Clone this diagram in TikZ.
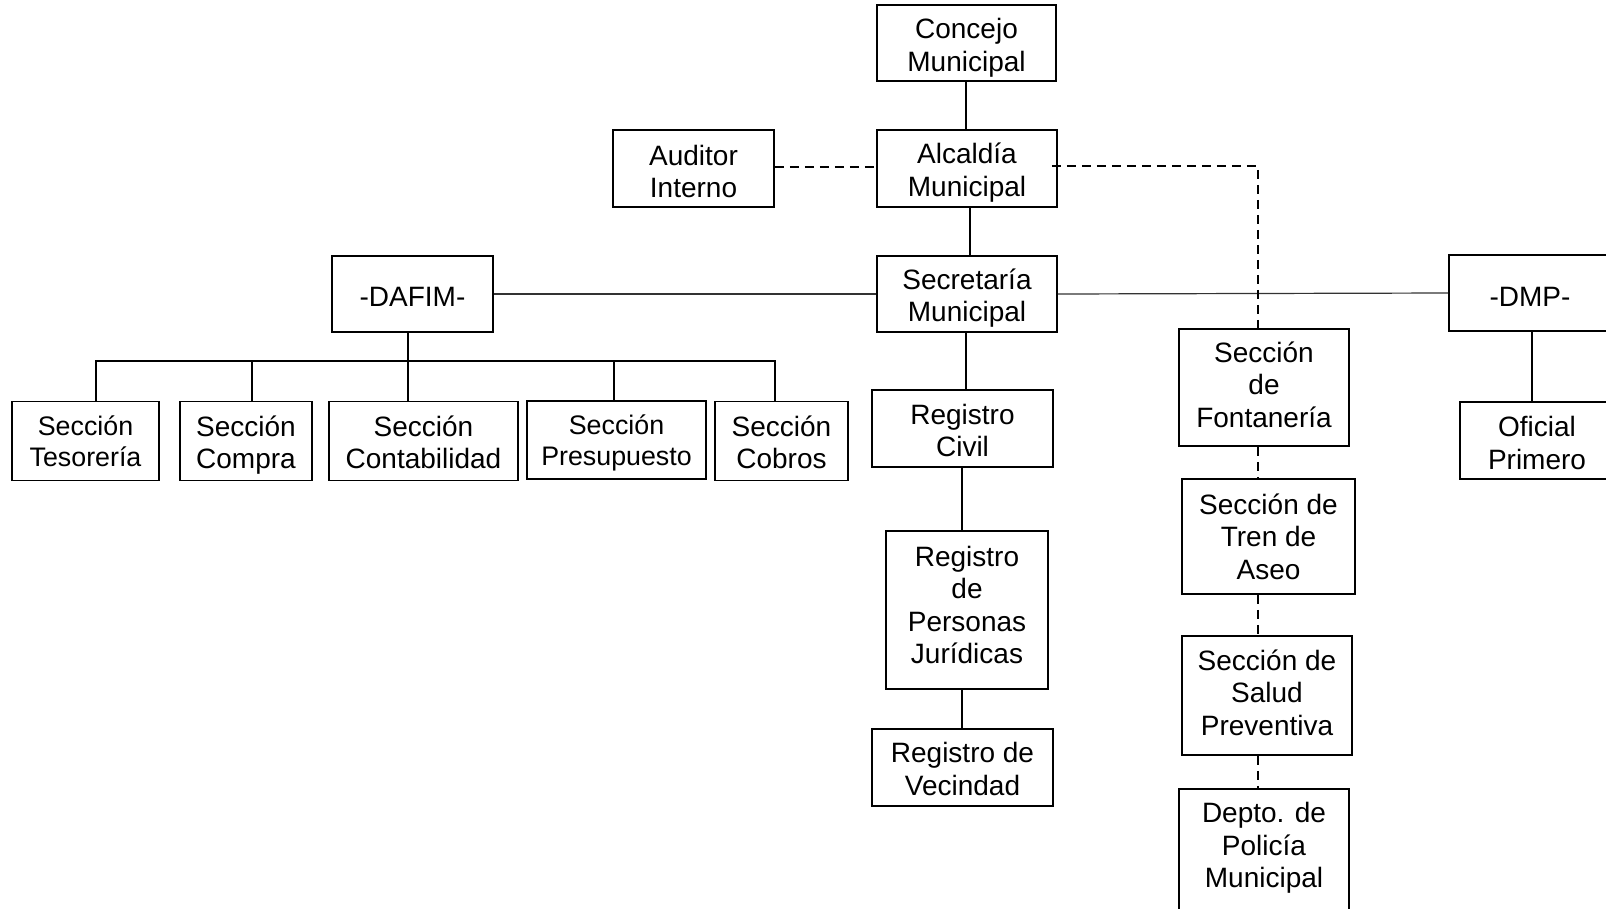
\documentclass[tikz,border=0pt]{standalone}
\usepackage{fontspec}
\setmainfont{Liberation Sans}
\begin{document}
\begin{tikzpicture}[x=1pt,y=-1pt,
  box/.style={draw=black,line width=1.7pt,inner sep=0pt},
  txt/.style={align=center,inner sep=0pt,font=\fontsize{28}{32.5}\selectfont},
  smalltxt/.style={txt,font=\fontsize{26.8}{31.5}\selectfont},
  lbl/.style 2 args={label={[txt,yshift=-#1pt]center:#2}},
  slbl/.style 2 args={label={[smalltxt,yshift=-#1pt]center:#2}},
  conn/.style={draw=black,line width=1.6pt},
  thinconn/.style={draw=black!80,line width=1.2pt},
  dconn/.style={draw=black,line width=1.7pt,dash pattern=on 9pt off 6pt}]
\useasboundingbox (0,0) rectangle (1606,908);
\clip (0,0) rectangle (1606,908);
\fill[white] (0,0) rectangle (1606,908);
% nodes
\node[box,minimum width=179,minimum height=76,lbl={5}{Concejo\\Municipal}] (con) at (966.5,43) {};
\node[box,minimum width=180,minimum height=77,lbl={4}{Alcaldía\\Municipal}] (alc) at (967,168.5) {};
\node[box,minimum width=180,minimum height=76,lbl={4}{Secretaría\\Municipal}] (sec) at (967,294) {};
\node[box,minimum width=161,minimum height=77,lbl={3}{Auditor\\Interno}] (aud) at (693.5,168.5) {};
\node[box,minimum width=161,minimum height=76,lbl={3}{-DAFIM-}] (daf) at (412.5,294) {};
\node[box,minimum width=162,minimum height=76,lbl={4}{-DMP-}] (dmp) at (1530,293) {};
\node[box,minimum width=154,minimum height=77,lbl={2.5}{Oficial\\Primero}] (ofi) at (1537,440.5) {};
\node[box,minimum width=147,minimum height=79,slbl={0.5}{Sección\\Tesorería}] (tes) at (85.5,441) {};
\node[box,minimum width=132,minimum height=79,lbl={4}{Sección\\Compra}] (com) at (246,441) {};
\node[box,minimum width=189,minimum height=79,lbl={1.5}{Sección\\Contabilidad}] (cnt) at (423.5,441) {};
\node[box,minimum width=179,minimum height=78,slbl={3}{Sección\\Presupuesto}] (pre) at (616.5,440) {};
\node[box,minimum width=133,minimum height=79,lbl={1.5}{Sección\\Cobros}] (cob) at (781.5,441) {};
\node[box,minimum width=181,minimum height=77,lbl={2}{Registro\\Civil}] (rc) at (962.5,428.5) {};
\node[box,minimum width=162,minimum height=158,lbl={-5}{Registro\\de\\Personas\\Jurídicas}] (per) at (967,610) {};
\node[box,minimum width=181,minimum height=77,lbl={1.5}{Registro de\\Vecindad}] (vec) at (962.5,767.5) {};
\node[box,minimum width=170,minimum height=117,lbl={-3}{Sección\\de\\Fontanería}] (fon) at (1264,387.5) {};
\node[box,minimum width=173,minimum height=115,lbl={0}{Sección de\\Tren de\\Aseo}] (tre) at (1268.5,536.5) {};
\node[box,minimum width=170,minimum height=119,lbl={-3}{Sección de\\Salud\\Preventiva}] (sal) at (1267,695.5) {};
\node[box,minimum width=170,minimum height=122,lbl={-2}{Depto. de\\Policía\\Municipal}] (dep) at (1264,850) {};
% helper coordinates
\coordinate (xa) at (966,0);
\coordinate (xb) at (970,0);
\coordinate (xr) at (962,0);
\coordinate (xd) at (1258,0);
\coordinate (xm) at (1532,0);
\coordinate (yaud) at (0,167);
\coordinate (yalc) at (0,166);
\coordinate (busL) at (96,361);
\coordinate (busR) at (775,361);
\coordinate (busC) at (252,361);
\coordinate (busP) at (614,361);
\coordinate (busD) at (408,361);
% solid connectors
\draw[conn] (con.south -| xa) -- (alc.north -| xa);
\draw[conn] (alc.south -| xb) -- (sec.north -| xb);
\draw[thinconn] (daf.east) -- (sec.west);
\draw[thinconn] (sec.east) -- (dmp.west);
\draw[conn] (sec.south -| xa) -- (rc.north -| xa);
\draw[conn] (rc.south -| xr) -- (per.north -| xr);
\draw[conn] (per.south -| xr) -- (vec.north -| xr);
\draw[conn] (dmp.south -| xm) -- (ofi.north -| xm);
\draw[conn] (daf.south -| busD) -- (cnt.north -| busD);
\draw[conn] (tes.north -| busL) -- (busL) -- (busR) -- (cob.north -| busR);
\draw[conn] (com.north -| busC) -- (busC);
\draw[conn] (pre.north -| busP) -- (busP);
% dashed connectors
\draw[dconn] (aud.east |- yaud) -- (alc.west |- yaud);
\draw[dconn] ([xshift=-6pt]alc.east |- yalc) -- (xd |- yalc) -- (fon.north -| xd);
\draw[dconn] (fon.south -| xd) -- (tre.north -| xd);
\draw[dconn] (tre.south -| xd) -- (sal.north -| xd);
\draw[dconn] (sal.south -| xd) -- (dep.north -| xd);
\end{tikzpicture}
\end{document}
